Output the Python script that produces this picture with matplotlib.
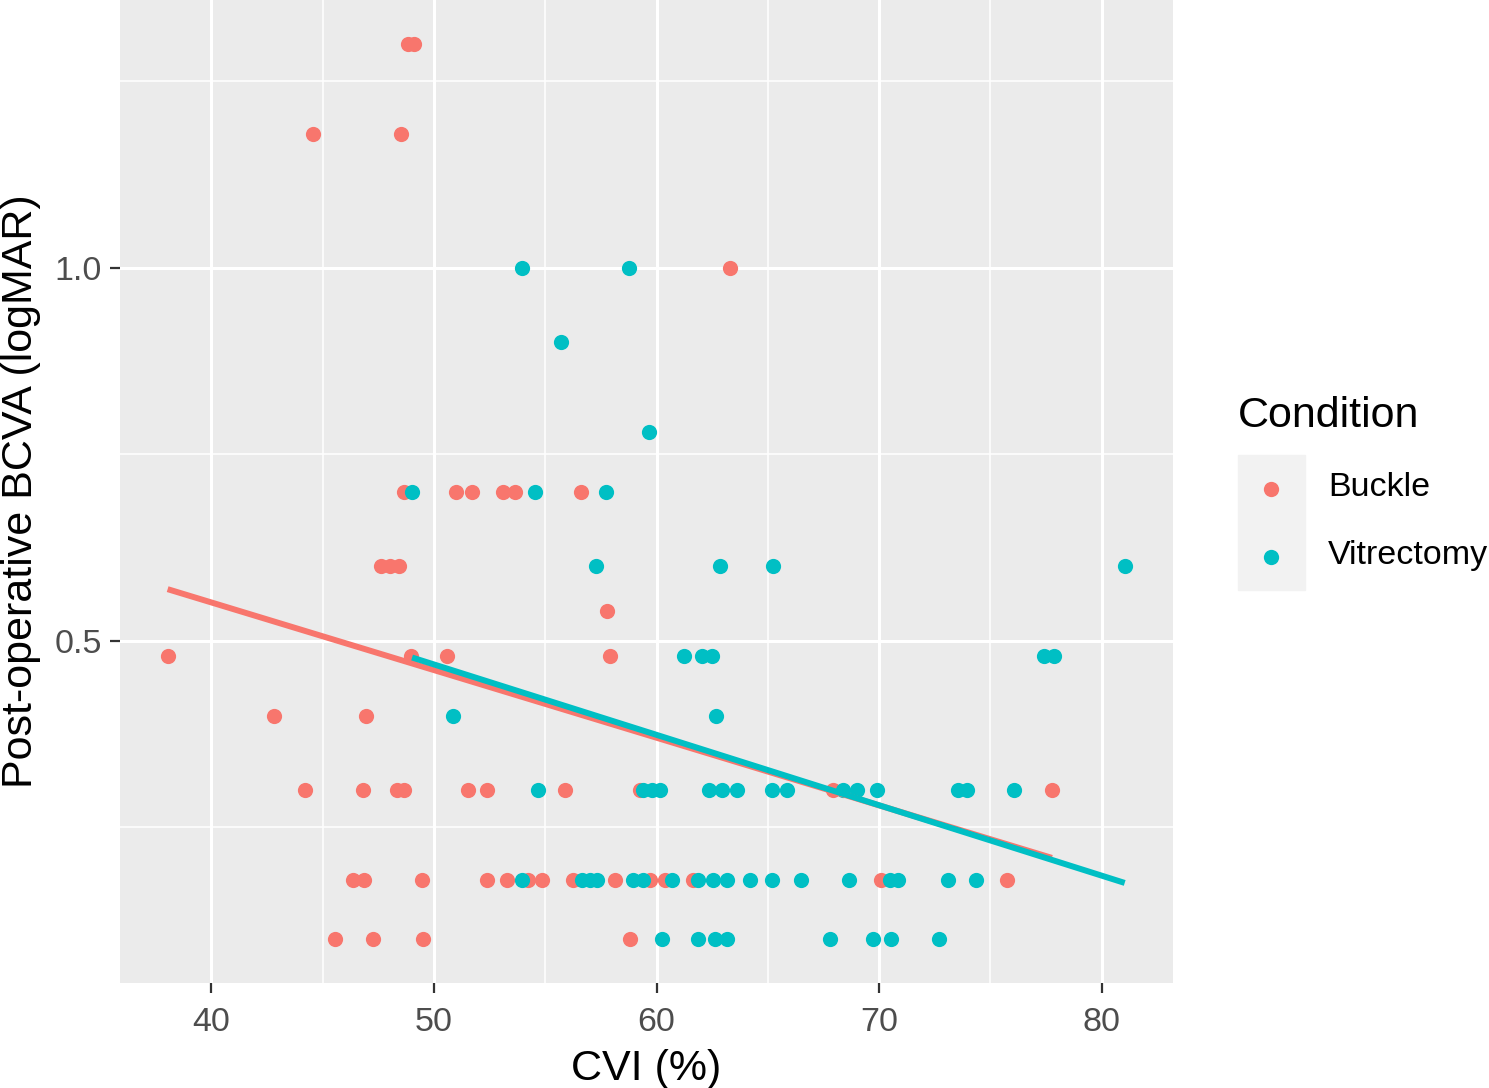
import matplotlib
matplotlib.use("Agg")
import matplotlib.pyplot as plt
import numpy as np
from matplotlib.patches import Rectangle
from matplotlib.lines import Line2D

plt.rcParams["font.family"] = ["Liberation Sans", "DejaVu Sans"]

# Buckle group (CVI %, logMAR)
buckle_cvi = [45.57, 47.27, 49.52, 58.81,
              46.37, 46.87, 49.47, 52.39, 53.29, 54.23, 54.86, 56.25, 58.14, 59.71,
              60.39, 61.64, 70.08, 75.73,
              44.22, 46.82, 48.35, 48.66, 51.54, 52.39, 55.89, 59.26, 67.92, 77.76,
              42.81, 46.96,
              38.04, 48.98, 50.60, 57.91,
              57.78,
              47.63, 48.04, 48.44,
              48.66, 51.00, 51.72, 53.11, 53.65, 56.61,
              63.30,
              44.57, 48.52,
              48.85, 49.10]
buckle_va = [0.10] * 4 + [0.18] * 14 + [0.30] * 10 + [0.40] * 2 + [0.48] * 4 \
    + [0.54] + [0.60] * 3 + [0.70] * 6 + [1.0] + [1.18] * 2 + [1.30] * 2

# Vitrectomy group
vitr_cvi = [60.25, 61.86, 62.63, 63.17, 67.79, 69.72, 70.53, 72.68,
            53.96, 56.66, 57.01, 57.33, 58.95, 59.39, 60.70, 61.86, 62.54, 63.17,
            64.20, 65.19, 66.49, 68.64, 70.48, 70.84, 73.09, 74.34,
            54.68, 59.39, 59.80, 60.16, 62.36, 62.94, 63.61, 65.19, 65.86, 68.37,
            69.00, 69.90, 73.54, 73.94, 76.05,
            50.84, 62.67,
            61.25, 62.05, 62.49, 77.40, 77.85,
            57.28, 62.85, 65.21, 81.03,
            49.02, 54.53, 57.73,
            59.66,
            55.71,
            53.96, 58.78]
vitr_va = [0.10] * 8 + [0.18] * 18 + [0.30] * 15 + [0.40] * 2 + [0.48] * 5 \
    + [0.60] * 4 + [0.70] * 3 + [0.78] + [0.90] + [1.0] * 2

groups = ["Buckle", "Vitrectomy"]
colors = ["#F8766D", "#00BFC4"]

fig = plt.figure(figsize=(14.89, 10.88), dpi=100)
ax = fig.add_axes([120 / 1489, 1 - 983 / 1088, 1053 / 1489, 983 / 1088])
ax.set_facecolor("#EBEBEB")

for cvi, va, col in zip([buckle_cvi, vitr_cvi], [buckle_va, vitr_va], colors):
    ax.scatter(cvi, va, s=120, color=col, linewidths=0, zorder=3)

# linear fit per group (like geom_smooth(method="lm"))
for cvi, va, col in zip([buckle_cvi, vitr_cvi], [buckle_va, vitr_va], colors):
    slope, icpt = np.polyfit(cvi, va, 1)
    xs = np.array([min(cvi), max(cvi)])
    ax.plot(xs, icpt + slope * xs, color=col, lw=4.3, zorder=4, solid_capstyle="butt")

ax.set_xlim(35.9, 83.2)
ax.set_ylim(0.0416, 1.359)
ax.set_xticks([40, 50, 60, 70, 80])
ax.set_yticks([0.5, 1.0])
ax.set_yticklabels(["0.5", "1.0"])
ax.set_xticks([45, 55, 65, 75], minor=True)
ax.set_yticks([0.25, 0.75, 1.25], minor=True)
ax.grid(which="major", color="white", lw=2.2)
ax.grid(which="minor", color="white", lw=1.1)
ax.set_axisbelow(True)
for s in ax.spines.values():
    s.set_visible(False)
ax.tick_params(which="major", length=7, width=1.6, color="#333333",
               labelsize=24.5, labelcolor="#4D4D4D", pad=6)
ax.tick_params(axis="x", which="major", pad=10)
ax.tick_params(which="minor", length=0)

ax.set_xlabel("CVI (%)", fontsize=31, labelpad=8)
ax.set_ylabel("Post-operative BCVA (logMAR)", fontsize=31, labelpad=10)

# legend drawn by hand (ggplot look)
W, H = 1489, 1088
fig.text(1238 / W, 1 - 416 / H, "Condition", fontsize=31, va="center", ha="left")
fig.add_artist(Rectangle((1238 / W, 1 - 590 / H), 67 / W, 135 / H,
                         transform=fig.transFigure, color="#F2F2F2", zorder=0))
for i, (g, col) in enumerate(zip(groups, colors)):
    yy = 1 - (489 + 68 * i) / H
    fig.add_artist(Line2D([1271 / W], [yy], marker="o", markersize=11,
                          color=col, markeredgewidth=0, transform=fig.transFigure))
    fig.text(1328 / W, yy + 1.5 / H, g, fontsize=24.5, va="center", ha="left")

fig.savefig("out.png", dpi=100)
